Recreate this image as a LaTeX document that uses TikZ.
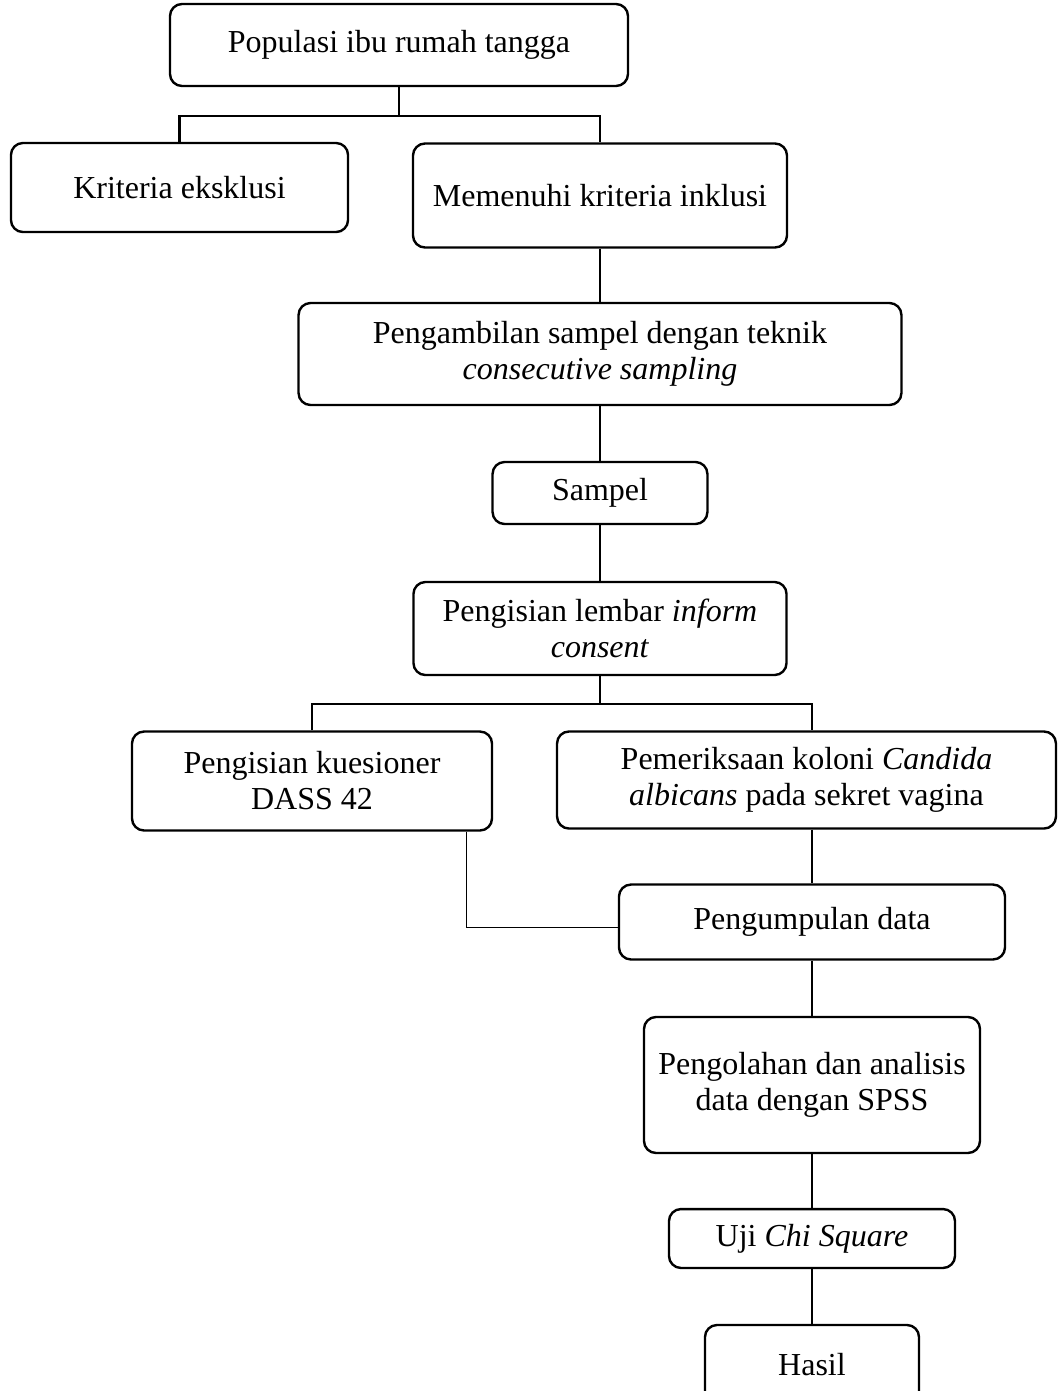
\documentclass[tikz,border=0pt]{standalone}
\usepackage{fontspec}
\setmainfont{Liberation Serif}
\usepackage{tikz}

\begin{document}
\begin{tikzpicture}[x=0.375pt, y=-0.375pt,
  box/.style={draw, line width=0.9pt, rounded corners=4.5pt, align=center, inner sep=2pt,
    font=\fontsize{12pt}{13.5pt}\selectfont},
  link/.style={line width=0.8pt}]
  \useasboundingbox (0,0) rectangle (1060,1391);

  \node (pop) [box, minimum width=171.75pt, minimum height=30.75pt] at (399,45) {Populasi ibu rumah tangga};
  \node (eks) [box, minimum width=126.4pt, minimum height=33.4pt] at (179.5,187.5) {Kriteria eksklusi};
  \node (ink) [box, minimum width=140.25pt, minimum height=39pt] at (600,195.5) {Memenuhi kriteria inklusi};
  \node (amb) [box, minimum width=226.1pt, minimum height=38.25pt] at (600,354) {Pengambilan sampel dengan teknik\\ \textit{consecutive sampling}};
  \node (spl) [box, minimum width=80.6pt, minimum height=23.25pt] at (600,493) {Sampel};
  \node (inf) [box, minimum width=139.9pt, minimum height=34.9pt] at (600,628.5) {Pengisian lembar \textit{inform}\\ \textit{consent}};
  \node (dass) [box, minimum width=135pt, minimum height=37.1pt] at (312,781) {Pengisian kuesioner\\ DASS 42};
  \node (cand) [box, minimum width=187.1pt, minimum height=36.4pt] at (806.5,780) {Pemeriksaan koloni \textit{Candida}\\ \textit{albicans} pada sekret vagina};
  \node (kumpul) [box, minimum width=144.75pt, minimum height=28.1pt] at (812,922) {Pengumpulan data};
  \node (olah) [box, minimum width=126pt, minimum height=51pt] at (812,1085) {Pengolahan dan analisis\\ data dengan SPSS};
  \node (uji) [box, minimum width=107.25pt, minimum height=22.1pt] at (812,1238.5) {Uji \textit{Chi Square}};
  \node (hasil) [box, minimum width=80.25pt, minimum height=30pt] at (812,1365) {Hasil};

  \coordinate (j1) at (399,116);
  \coordinate (j2) at (600,704);

  \draw[link] (pop.south) -- (j1);
  \draw[link] (eks.north) |- (j1) -| (ink.north);
  \draw[link] (ink.south) -- (amb.north);
  \draw[link] (amb.south) -- (spl.north);
  \draw[link] (spl.south) -- (inf.north);
  \draw[link] (inf.south) -- (j2);
  \draw[link] (dass.north) |- (j2) -| (kumpul.north |- cand.north);
  \draw[link] (kumpul.north |- cand.south) -- (kumpul.north);
  \draw[line width=0.4pt] ([xshift=58pt]dass.south) |- ([yshift=-2pt]kumpul.west);
  \draw[link] (kumpul.south) -- (olah.north);
  \draw[link] (olah.south) -- (uji.north);
  \draw[link] (uji.south) -- (hasil.north);
\end{tikzpicture}
\end{document}
